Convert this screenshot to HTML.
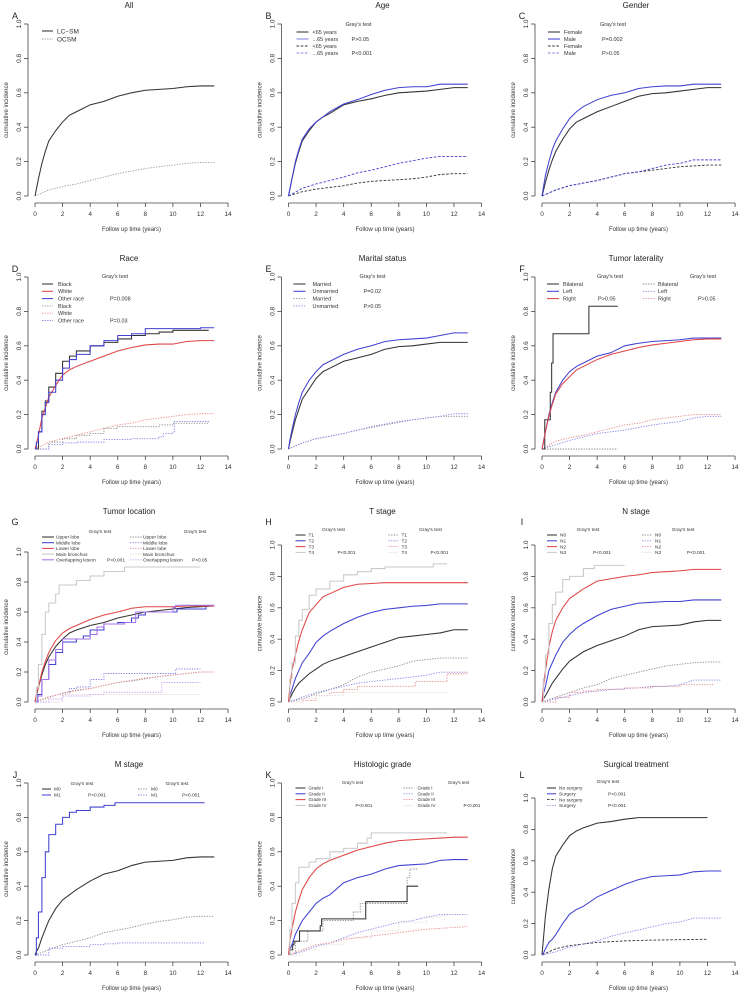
<!DOCTYPE html>
<html><head><meta charset="utf-8">
<style>
html,body{margin:0;padding:0;background:#fff;}
svg{display:block;font-family:"Liberation Sans",sans-serif;}
</style></head>
<body>
<svg id="fig" width="742" height="992" viewBox="0 0 742 992" xmlns="http://www.w3.org/2000/svg"></svg>
<script>
// ---- shared time grids ----
const tGrid = [0,0.1,0.25,0.5,0.75,1,1.5,2,2.5,3,4,5,6,7,8,9,10,11,12,13];
const tDot = [0,1,2,3,4,5,6,7,8,9,10,11,12,13];
const xTicks = [0,2,4,6,8,10,12,14];
const yTicks = [0,0.2,0.4,0.6,0.8,1.0];
const yTickLabels = ["0.0","0.2","0.4","0.6","0.8","1.0"];

// ---- A ----
const A_lcsm = [0,.04,.1,.19,.26,.32,.38,.43,.47,.49,.53,.55,.58,.60,.615,.62,.625,.635,.64,.64];
const A_ocsm = [0,.035,.055,.07,.09,.11,.13,.145,.16,.17,.18,.19,.195,.195];
// ---- B ----
const B_lt65 = [0,.04,.1,.19,.26,.32,.38,.43,.46,.48,.53,.55,.565,.585,.60,.605,.61,.62,.63,.63];
const B_ge65 = [0,.04,.1,.2,.27,.33,.39,.43,.46,.49,.535,.56,.59,.615,.63,.635,.635,.65,.65,.65];
const B_lt65d = [0,.025,.04,.05,.06,.075,.085,.09,.095,.10,.11,.125,.13,.13];
const B_ge65d = [0,.045,.07,.09,.11,.135,.15,.17,.19,.205,.22,.23,.23,.23];
// ---- C ----
const C_f = [0,.03,.08,.15,.21,.26,.33,.39,.43,.45,.49,.52,.55,.58,.595,.60,.61,.62,.63,.63];
const C_m = [0,.05,.12,.2,.27,.32,.39,.45,.49,.52,.56,.585,.60,.625,.635,.64,.64,.65,.65,.65];
const C_fd = [0,.035,.06,.075,.09,.11,.13,.14,.15,.16,.17,.175,.18,.18];
const C_md = [0,.035,.06,.075,.09,.11,.13,.14,.16,.18,.19,.21,.21,.21];
// ---- D ----
const D_black_t = [0,.25,.5,.75,1,1.5,2,2.5,3,4,5,6,7,8,9,10,12.6];
const D_black = [0,.1,.22,.28,.36,.44,.51,.54,.57,.60,.62,.64,.66,.67,.68,.69,.69];
const D_white = [0,.03,.08,.18,.24,.3,.37,.43,.46,.48,.51,.54,.57,.59,.605,.61,.61,.625,.63,.63];
const D_other = [0,.04,.1,.2,.27,.33,.4,.47,.52,.55,.60,.63,.66,.67,.70,.70,.70,.70,.705,.705];
const D_blackd_t = [0,1,2,3,4,5,6,7,8,9,10,12.6];
const D_blackd = [0,.04,.06,.08,.09,.12,.13,.13,.13,.14,.15,.15];
const D_whited = [0,.04,.06,.08,.1,.12,.14,.15,.17,.18,.19,.2,.205,.205];
const D_otherd_t = [0,1,2,3,4,5,6,7,8,9,9.3,10,10.1,12.6];
const D_otherd = [0,.025,.035,.04,.04,.055,.055,.06,.06,.07,.09,.1,.16,.165];
// ---- E ----
const E_m = [0,.04,.09,.17,.23,.29,.35,.41,.45,.47,.51,.53,.55,.58,.595,.60,.61,.62,.62,.62];
const E_u = [0,.05,.11,.2,.27,.33,.4,.45,.49,.51,.55,.58,.60,.625,.635,.64,.645,.66,.675,.675];
const E_md = [0,.035,.06,.075,.09,.11,.125,.14,.155,.17,.18,.19,.19,.19];
const E_ud = [0,.035,.06,.075,.09,.11,.13,.145,.16,.17,.18,.19,.205,.205];
// ---- F ----
const F_bi_t = [0,.2,.3,.6,.7,.8,3.4,5.5];
const F_bi = [0,.17,.17,.33,.5,.67,.83,.83];
const F_left = [0,.04,.1,.2,.27,.33,.40,.45,.48,.50,.54,.56,.60,.615,.625,.63,.635,.645,.645,.645];
const F_right = [0,.04,.1,.19,.26,.32,.38,.42,.46,.48,.52,.55,.57,.59,.605,.615,.625,.635,.64,.64];
const F_bid_t = [0,5.5];
const F_bid = [0,0];
const F_leftd = [0,.025,.05,.07,.09,.1,.11,.125,.14,.15,.16,.18,.19,.19];
const F_rightd = [0,.045,.065,.08,.1,.12,.14,.15,.17,.18,.19,.2,.2,.2];
// ---- G ----
const G_upper = [0,.04,.1,.18,.25,.3,.37,.42,.46,.48,.51,.53,.56,.58,.6,.61,.62,.63,.635,.64];
const G_middle_t = [0,.2,.5,1,1.5,2,3,3.5,4,5,6,7,7.5,8,10,10.3,12.4];
const G_middle = [0,.05,.15,.25,.33,.4,.42,.44,.48,.52,.53,.56,.58,.6,.6,.62,.635];
const G_lower = [0,.05,.1,.2,.27,.33,.41,.46,.49,.51,.55,.58,.6,.625,.635,.635,.635,.64,.64,.64];
const G_main_t = [0,.1,.25,.5,.75,1,1.5,1.75,2.5,3,4,5,6.5,12];
const G_main = [0,.1,.25,.45,.6,.66,.72,.78,.78,.81,.84,.87,.9,.9];
const G_overlap_t = [0,.2,.5,1,1.5,2,3,4,4.5,5,6,6.5,7.3,8,10,10.2,13];
const G_overlap = [0,.04,.15,.28,.35,.42,.42,.45,.5,.52,.52,.53,.6,.6,.63,.645,.645];
const G_upperd = [0,.03,.06,.08,.09,.11,.13,.14,.155,.17,.18,.19,.2,.2];
const G_middled_t = [0,2,2.5,3,4,5,10,10.2,12];
const G_middled = [0,.05,.09,.1,.15,.19,.19,.22,.22];
const G_lowerd = [0,.035,.055,.075,.09,.11,.13,.145,.16,.17,.18,.19,.2,.2];
const G_maind_t = [0,2,12];
const G_maind = [0,.05,.05];
const G_overlapd_t = [0,1,2,4,5,9,9.2,12];
const G_overlapd = [0,.02,.04,.05,.065,.065,.13,.13];
// ---- H ----
const H_t1 = [0,.02,.05,.09,.12,.14,.18,.21,.24,.26,.29,.32,.35,.38,.41,.42,.43,.44,.46,.46];
const H_t2 = [0,.04,.08,.15,.2,.25,.31,.38,.42,.45,.5,.54,.57,.59,.6,.61,.615,.625,.625,.625];
const H_t3 = [0,.1,.2,.3,.39,.46,.57,.62,.67,.69,.73,.75,.755,.76,.76,.76,.76,.76,.76,.76];
const H_t4_t = [0,.1,.25,.5,.75,1,1.5,2,3,4,5,6,7,10.5,11.5];
const H_t4 = [0,.15,.25,.42,.52,.59,.68,.72,.77,.81,.83,.85,.86,.88,.88];
const H_t1d = [0,.02,.05,.08,.11,.16,.19,.21,.23,.26,.27,.28,.28,.28];
const H_t2d = [0,.03,.06,.08,.10,.12,.13,.14,.15,.16,.17,.19,.19,.19];
const H_t3d_t = [0,1,2,3,4,5,9.2,11.5,13];
const H_t3d = [0,.01,.04,.06,.08,.1,.13,.18,.18];
const H_t4d_t = [0,1,2,4,8,11.5];
const H_t4d = [0,.02,.04,.06,.06,.07];
// ---- I ----
const I_n0 = [0,.02,.04,.08,.12,.15,.21,.26,.29,.32,.36,.39,.42,.46,.48,.485,.49,.51,.52,.52];
const I_n1 = [0,.05,.1,.2,.25,.3,.38,.43,.47,.5,.55,.59,.61,.63,.635,.64,.64,.65,.65,.65];
const I_n2 = [0,.1,.2,.35,.45,.52,.6,.66,.69,.72,.77,.785,.8,.81,.825,.83,.835,.845,.845,.845];
const I_n3_t = [0,.1,.25,.5,.75,1,1.5,2,3,3.8,6];
const I_n3 = [0,.15,.3,.5,.62,.7,.78,.8,.85,.87,.87];
const I_n0d = [0,.03,.06,.09,.11,.15,.17,.19,.21,.23,.24,.25,.255,.255];
const I_n1d = [0,.02,.04,.06,.07,.08,.085,.09,.1,.1,.11,.14,.14,.14];
const I_n2d_t = [0,1,2,3,4,5,6,8,10,12.5];
const I_n2d = [0,.03,.06,.07,.08,.08,.09,.1,.11,.11];
// ---- J ----
const J_m0 = [0,.02,.04,.1,.15,.2,.27,.32,.35,.38,.43,.47,.49,.52,.54,.545,.55,.565,.57,.57];
const J_m1_t = [0,.1,.25,.5,.75,1,1.5,2,2.5,3,4,5,5.8,12.3];
const J_m1 = [0,.1,.25,.45,.6,.7,.76,.8,.83,.84,.86,.87,.885,.885];
const J_m0d = [0,.03,.06,.08,.1,.13,.145,.16,.18,.195,.205,.22,.225,.225];
const J_m1d_t = [0,1,2,3,4,5,6,12.3];
const J_m1d = [0,.04,.05,.05,.06,.065,.07,.07];
// ---- K ----
const K_g1_t = [0,.1,.3,.4,.8,2.3,2.4,5.6,8.6,9.4];
const K_g1 = [0,.03,.06,.08,.14,.17,.21,.31,.4,.4];
const K_g2 = [0,.03,.06,.12,.16,.2,.25,.3,.33,.35,.42,.45,.47,.5,.52,.525,.53,.55,.555,.555];
const K_g3 = [0,.08,.15,.25,.32,.38,.45,.5,.53,.55,.58,.61,.63,.65,.665,.67,.675,.68,.685,.685];
const K_g4_t = [0,.1,.25,.5,.75,1.5,2,3,4,5,5.7,6,11.5];
const K_g4 = [0,.15,.3,.42,.51,.54,.56,.6,.62,.65,.68,.71,.71];
const K_g1d_t = [0,.5,1.4,2.5,4.7,5.2,8.6,8.8,9.4];
const K_g1d = [0,.08,.14,.2,.25,.3,.45,.5,.5];
const K_g2d = [0,.02,.05,.07,.1,.13,.15,.17,.19,.2,.22,.235,.235,.235];
const K_g3d = [0,.03,.06,.07,.09,.1,.11,.12,.13,.14,.15,.155,.16,.165];
const K_g4d_t = [0,1,2,4,6,8,10,11,11.5];
const K_g4d = [0,.03,.06,.1,.14,.19,.22,.23,.23];
// ---- L ----
const L_no_t = [0,.1,.25,.5,.75,1,1.5,2,2.5,3,4,5,6,7,12];
const L_no = [0,.1,.25,.42,.55,.63,.7,.76,.79,.81,.84,.85,.865,.875,.875];
const L_s = [0,.01,.04,.08,.1,.13,.2,.26,.29,.31,.37,.41,.45,.48,.5,.505,.51,.53,.535,.535];
const L_nod_t = [0,1,2,3,4,5,6,8,12];
const L_nod = [0,.04,.06,.07,.08,.085,.09,.095,.1];
const L_sd = [0,.02,.05,.07,.09,.12,.14,.16,.18,.2,.21,.235,.235,.235];

// ---- styles ----
const CK='#333333', CB='#4242d2', CR='#e04646', CG='#c9c9c9', CV='#a673e6';
const DK='#8a8a8a', DB='#8585e6', DR='#ea8a8a', DG='#e6d8d8', DV='#c6a0ee';
const SOL=null, DOT='1.3,1.3', DSH='2.6,1.6';

function S(name,t,v,color,dash,step){return {name,t,v,color,dash,step};}
function L(label,color,dash){return {label,color,dash};}

const panels = [
 {id:'A',title:'All',col:0,row:0,sc:172,
  series:[S('lc-sm',tGrid,A_lcsm,CK,SOL),S('ocsm',tDot,A_ocsm,'#999',DOT)],
  legends:[{x1:42,x2:53,tx:57,y0:31,dy:8,fs:6.5,items:[L('LC−SM',CK,SOL),L('OCSM','#999',DOT)]}]},
 {id:'B',title:'Age',col:1,row:0,sc:172,
  series:[S('lt65',tGrid,B_lt65,CK,SOL),S('ge65',tGrid,B_ge65,CB,SOL),S('lt65-ocsm',tDot,B_lt65d,CK,DSH),S('ge65-ocsm',tDot,B_ge65d,CB,DSH)],
  legends:[{x1:43,x2:55,tx:59,y0:32,dy:7,fs:5.5,gx:105,gy:24,px:98,p:[[1,'P>0.05'],[3,'P<0.001']],
   items:[L('<65 years',CK,SOL),L('...65 years',DB,SOL),L('<65 years',CK,DSH),L('...65 years',DB,DSH)]}]},
 {id:'C',title:'Gender',col:2,row:0,sc:172,
  series:[S('female',tGrid,C_f,CK,SOL),S('male',tGrid,C_m,CB,SOL),S('female-ocsm',tDot,C_fd,CK,DSH),S('male-ocsm',tDot,C_md,CB,DSH)],
  legends:[{x1:41,x2:53,tx:57,y0:32,dy:7,fs:5.5,gx:106,gy:24,px:95,p:[[1,'P=0.002'],[3,'P>0.05']],
   items:[L('Female',CK,SOL),L('Male',CB,SOL),L('Female',CK,DSH),L('Male',DB,DSH)]}]},
 {id:'D',title:'Race',col:0,row:1,sc:172,
  series:[S('black',D_black_t,D_black,CK,SOL,1),S('white',tGrid,D_white,CR,SOL),S('other',tGrid,D_other,CB,SOL,1),
          S('black-ocsm',D_blackd_t,D_blackd,DK,DOT,1),S('white-ocsm',tDot,D_whited,DR,DOT),S('other-ocsm',D_otherd_t,D_otherd,DB,DOT,1)],
  legends:[{x1:42,x2:53,tx:58,y0:31,dy:7.3,fs:5.5,gx:115,gy:23,px:110,p:[[2,'P=0.008'],[5,'P=0.03']],
   items:[L('Black',CK,SOL),L('White',CR,SOL),L('Other race',CB,SOL),L('Black',DK,DOT),L('White',DR,DOT),L('Other race',DB,DOT)]}]},
 {id:'E',title:'Marital status',col:1,row:1,sc:172,
  series:[S('married',tGrid,E_m,CK,SOL),S('unmarried',tGrid,E_u,CB,SOL),S('married-ocsm',tDot,E_md,DK,DOT),S('unmarried-ocsm',tDot,E_ud,DB,DOT)],
  legends:[{x1:40,x2:52,tx:59,y0:31,dy:7.3,fs:5.5,gx:119,gy:23,px:110,p:[[1,'P=0.02'],[3,'P>0.05']],
   items:[L('Married',CK,SOL),L('Unmarried',CB,SOL),L('Married',DK,DOT),L('Unmarried',DB,DOT)]}]},
 {id:'F',title:'Tumor laterality',col:2,row:1,sc:172,
  series:[S('bilateral',F_bi_t,F_bi,CK,SOL,1),S('left',tGrid,F_left,CB,SOL),S('right',tGrid,F_right,CR,SOL),
          S('bilateral-ocsm',F_bid_t,F_bid,DK,DOT,1),S('left-ocsm',tDot,F_leftd,DB,DOT),S('right-ocsm',tDot,F_rightd,DR,DOT)],
  legends:[{x1:40,x2:52,tx:56,y0:31,dy:7.3,fs:5.5,gx:103,gy:23,px:91,p:[[2,'P>0.05']],
   items:[L('Bilateral',CK,SOL),L('Left',CB,SOL),L('Right',CR,SOL)]},
   {x1:136,x2:148,tx:151,y0:31,dy:7.3,fs:5.5,gx:196,gy:23,px:191,p:[[2,'P>0.05']],
   items:[L('Bilateral',DK,DOT),L('Left',DB,DOT),L('Right',DR,DOT)]}]},
 {id:'G',title:'Tumor location',col:0,row:2,sc:150,
  series:[S('upper-lobe',tGrid,G_upper,CK,SOL),S('middle-lobe',G_middle_t,G_middle,CB,SOL,1),S('lower-lobe',tGrid,G_lower,CR,SOL),
          S('main-bronchus',G_main_t,G_main,CG,SOL,1),S('overlapping',G_overlap_t,G_overlap,CV,SOL,1),
          S('upper-lobe-ocsm',tDot,G_upperd,DK,DOT),S('middle-lobe-ocsm',G_middled_t,G_middled,DB,DOT,1),S('lower-lobe-ocsm',tDot,G_lowerd,DR,DOT),
          S('main-bronchus-ocsm',G_maind_t,G_maind,DG,DOT,1),S('overlapping-ocsm',G_overlapd_t,G_overlapd,DV,DOT,1)],
  legends:[{x1:42,x2:54,tx:56,y0:31,dy:5.7,fs:4.8,gx:100,gy:25,px:107,p:[[4,'P<0.001']],
   items:[L('Upper lobe',CK,SOL),L('Middle lobe',CB,SOL),L('Lower lobe',CR,SOL),L('Main bronchus',CG,SOL),L('Overlapping lesion',CV,SOL)]},
   {x1:130,x2:142,tx:143,y0:31,dy:5.7,fs:4.8,gx:195,gy:25,px:192,p:[[4,'P>0.05']],
   items:[L('Upper lobe',DK,DOT),L('Middle lobe',DB,DOT),L('Lower lobe',DR,DOT),L('Main bronchus',DG,DOT),L('Overlapping lesion',DV,DOT)]}]},
 {id:'H',title:'T stage',col:1,row:2,sc:157,
  series:[S('t1',tGrid,H_t1,CK,SOL),S('t2',tGrid,H_t2,CB,SOL),S('t3',tGrid,H_t3,CR,SOL),S('t4',H_t4_t,H_t4,CG,SOL,1),
          S('t1-ocsm',tDot,H_t1d,DK,DOT),S('t2-ocsm',tDot,H_t2d,DB,DOT),S('t3-ocsm',H_t3d_t,H_t3d,DR,DOT,1),S('t4-ocsm',H_t4d_t,H_t4d,DG,DOT,1)],
  legends:[{x1:42,x2:52,tx:55,y0:29,dy:5.8,fs:4.8,gx:80,gy:23,px:84,p:[[3,'P<0.001']],
   items:[L('T1',CK,SOL),L('T2',CB,SOL),L('T3',CR,SOL),L('T4',CG,SOL)]},
   {x1:135,x2:145,tx:148,y0:29,dy:5.8,fs:4.8,gx:177,gy:23,px:177,p:[[3,'P<0.001']],
   items:[L('T1',DK,DOT),L('T2',DB,DOT),L('T3',DR,DOT),L('T4',DG,DOT)]}]},
 {id:'I',title:'N stage',col:2,row:2,sc:157,
  series:[S('n0',tGrid,I_n0,CK,SOL),S('n1',tGrid,I_n1,CB,SOL),S('n2',tGrid,I_n2,CR,SOL),S('n3',I_n3_t,I_n3,CG,SOL,1),
          S('n0-ocsm',tDot,I_n0d,DK,DOT),S('n1-ocsm',tDot,I_n1d,DB,DOT),S('n2-ocsm',I_n2d_t,I_n2d,DR,DOT,1)],
  legends:[{x1:40,x2:50,tx:53,y0:29,dy:5.8,fs:4.8,gx:81,gy:23,px:86,p:[[3,'P<0.001']],
   items:[L('N0',CK,SOL),L('N1',CB,SOL),L('N2',CR,SOL),L('N3',CG,SOL)]},
   {x1:135,x2:145,tx:148,y0:29,dy:5.8,fs:4.8,gx:176,gy:23,px:180,p:[[3,'P<0.001']],
   items:[L('N0',DK,DOT),L('N1',DB,DOT),L('N2',DR,DOT),L('N3',DG,DOT)]}]},
 {id:'J',title:'M stage',col:0,row:3,sc:172,
  series:[S('m0',tGrid,J_m0,CK,SOL),S('m1',J_m1_t,J_m1,CB,SOL,1),S('m0-ocsm',tDot,J_m0d,DK,DOT),S('m1-ocsm',J_m1d_t,J_m1d,DB,DOT,1)],
  legends:[{x1:42,x2:51,tx:54,y0:30,dy:6,fs:4.8,gx:82,gy:24,px:88,p:[[1,'P<0.001']],
   items:[L('M0',CK,SOL),L('M1',CB,SOL)]},
   {x1:138,x2:147,tx:151,y0:30,dy:6,fs:4.8,gx:177,gy:24,px:182,p:[[1,'P<0.001']],
   items:[L('M0',DK,DOT),L('M1',DB,DOT)]}]},
 {id:'K',title:'Histologic grade',col:1,row:3,sc:172,
  series:[S('grade-1',K_g1_t,K_g1,CK,SOL,1),S('grade-2',tGrid,K_g2,CB,SOL),S('grade-3',tGrid,K_g3,CR,SOL),S('grade-4',K_g4_t,K_g4,CG,SOL,1),
          S('grade-1-ocsm',K_g1d_t,K_g1d,DK,DOT,1),S('grade-2-ocsm',tDot,K_g2d,DB,DOT),S('grade-3-ocsm',tDot,K_g3d,DR,DOT),S('grade-4-ocsm',K_g4d_t,K_g4d,DG,DOT,1)],
  legends:[{x1:42,x2:52,tx:55,y0:29,dy:5.8,fs:4.5,gx:99,gy:23,px:102,p:[[3,'P<0.001']],
   items:[L('Grade I',CK,SOL),L('Grade II',CB,SOL),L('Grade III',CR,SOL),L('Grade IV',CG,SOL)]},
   {x1:150,x2:160,tx:164,y0:29,dy:5.8,fs:4.5,gx:205,gy:23,px:210,p:[[3,'P<0.001']],
   items:[L('Grade I',DK,DOT),L('Grade II',DB,DOT),L('Grade III',DR,DOT),L('Grade IV',DG,DOT)]}]},
 {id:'L',title:'Surgical treatment',col:2,row:3,sc:157,
  series:[S('no-surgery',L_no_t,L_no,CK,SOL),S('surgery',tGrid,L_s,CB,SOL),S('no-surgery-ocsm',L_nod_t,L_nod,CK,DSH),S('surgery-ocsm',tDot,L_sd,DB,DOT)],
  legends:[{x1:40,x2:49,tx:52,y0:29,dy:5.8,fs:4.8,gx:101,gy:22,px:101,p:[[1,'P<0.001'],[3,'P<0.001']],
   items:[L('No surgery',CK,SOL),L('Surgery',CB,SOL),L('No surgery',CK,DSH),L('Surgery',DB,DOT)]}]}
];

const NS='http://www.w3.org/2000/svg';
const svg=document.getElementById('fig');
function mk(tag,attrs,parent){const e=document.createElementNS(NS,tag);for(const k in attrs)e.setAttribute(k,attrs[k]);parent.appendChild(e);return e;}

panels.forEach(p=>{
  const ox=p.col*253.5, oy=p.row*253;
  const g=mk('g',{transform:`translate(${ox},${oy})`},svg);
  
  
  const xs=t=>35+t*13.79;
  const ys=v=>196-v*p.sc;
  const ti=mk('text',{x:129,y:8,'font-size':8,'text-anchor':'middle',fill:'#222'},g);ti.textContent=p.title;
  
  
  const le=mk('text',{x:15,y:19,'font-size':9,'text-anchor':'middle',fill:'#222'},g);le.textContent=p.id;
  
  
  const ax=mk('g',{stroke:'#444','stroke-width':0.8,fill:'none'},g);
  
  
  mk('line',{x1:28,x2:28,y1:ys(0),y2:ys(1)},ax);
  mk('line',{x1:xs(0),x2:xs(14),y1:203,y2:203},ax);
  yTicks.forEach((v,i)=>{
    mk('line',{x1:24,x2:28,y1:ys(v),y2:ys(v)},ax);
    const t=mk('text',{x:0,y:0,'font-size':6.5,'text-anchor':'middle',fill:'#333',transform:`translate(21,${ys(v)}) rotate(-90)`},g);
    t.textContent=yTickLabels[i];
    
    
  });
  xTicks.forEach(v=>{
    mk('line',{x1:xs(v),x2:xs(v),y1:203,y2:207},ax);
    const t=mk('text',{x:xs(v),y:216,'font-size':6.5,'text-anchor':'middle',fill:'#333'},g);
    t.textContent=String(v);
    
    
  });
  const xl=mk('text',{x:xs(7),y:231,'font-size':6,'text-anchor':'middle',fill:'#333'},g);
  xl.textContent='Follow up time (years)';
  
  
  const yl=mk('text',{x:0,y:0,'font-size':6,'text-anchor':'middle',fill:'#333',transform:`translate(8,${ys(0.5)}) rotate(-90)`},g);
  yl.textContent='cumulative incidence';
  
  
  const ordered=p.series.filter(s=>s.dash).concat(p.series.filter(s=>!s.dash));
  ordered.forEach(s=>{
    let d='';
    for(let i=0;i<s.t.length;i++){
      const X=xs(s.t[i]).toFixed(2), Y=ys(s.v[i]).toFixed(2);
      if(i===0) d+=`M${X},${Y}`;
      else if(s.step) d+=`H${X}V${Y}`;
      else d+=`L${X},${Y}`;
    }
    const a={d:d,fill:'none',stroke:s.color,'stroke-width':s.dash?0.9:1.05};
    if(s.dash)a['stroke-dasharray']=s.dash;
    const el=mk('path',a,g);
    
    
  });
  p.legends.forEach(lg=>{
    const lgG=mk('g',{},g);
    
    
    if(lg.gx!==undefined){
      const gt=mk('text',{x:lg.gx,y:lg.gy+2,'font-size':lg.fs,'text-anchor':'middle',fill:'#333'},lgG);
      gt.textContent="Gray's test";
      
      
    }
    lg.items.forEach((it,i)=>{
      const y=lg.y0+i*lg.dy;
      const a={x1:lg.x1,x2:lg.x2,y1:y,y2:y,stroke:it.color,'stroke-width':it.dash?0.9:1.05};
      if(it.dash)a['stroke-dasharray']=it.dash;
      const ln=mk('line',a,lgG);
      
      
      const tx=mk('text',{x:lg.tx,y:y+lg.fs*0.35,'font-size':lg.fs,fill:'#333'},lgG);
      tx.textContent=it.label;
      
      
    });
    (lg.p||[]).forEach(pp=>{
      const y=lg.y0+pp[0]*lg.dy;
      const tx=mk('text',{x:lg.px,y:y+lg.fs*0.35,'font-size':lg.fs,fill:'#333'},lgG);
      tx.textContent=pp[1];
      
      
    });
  });
});
</script>
</body></html>
